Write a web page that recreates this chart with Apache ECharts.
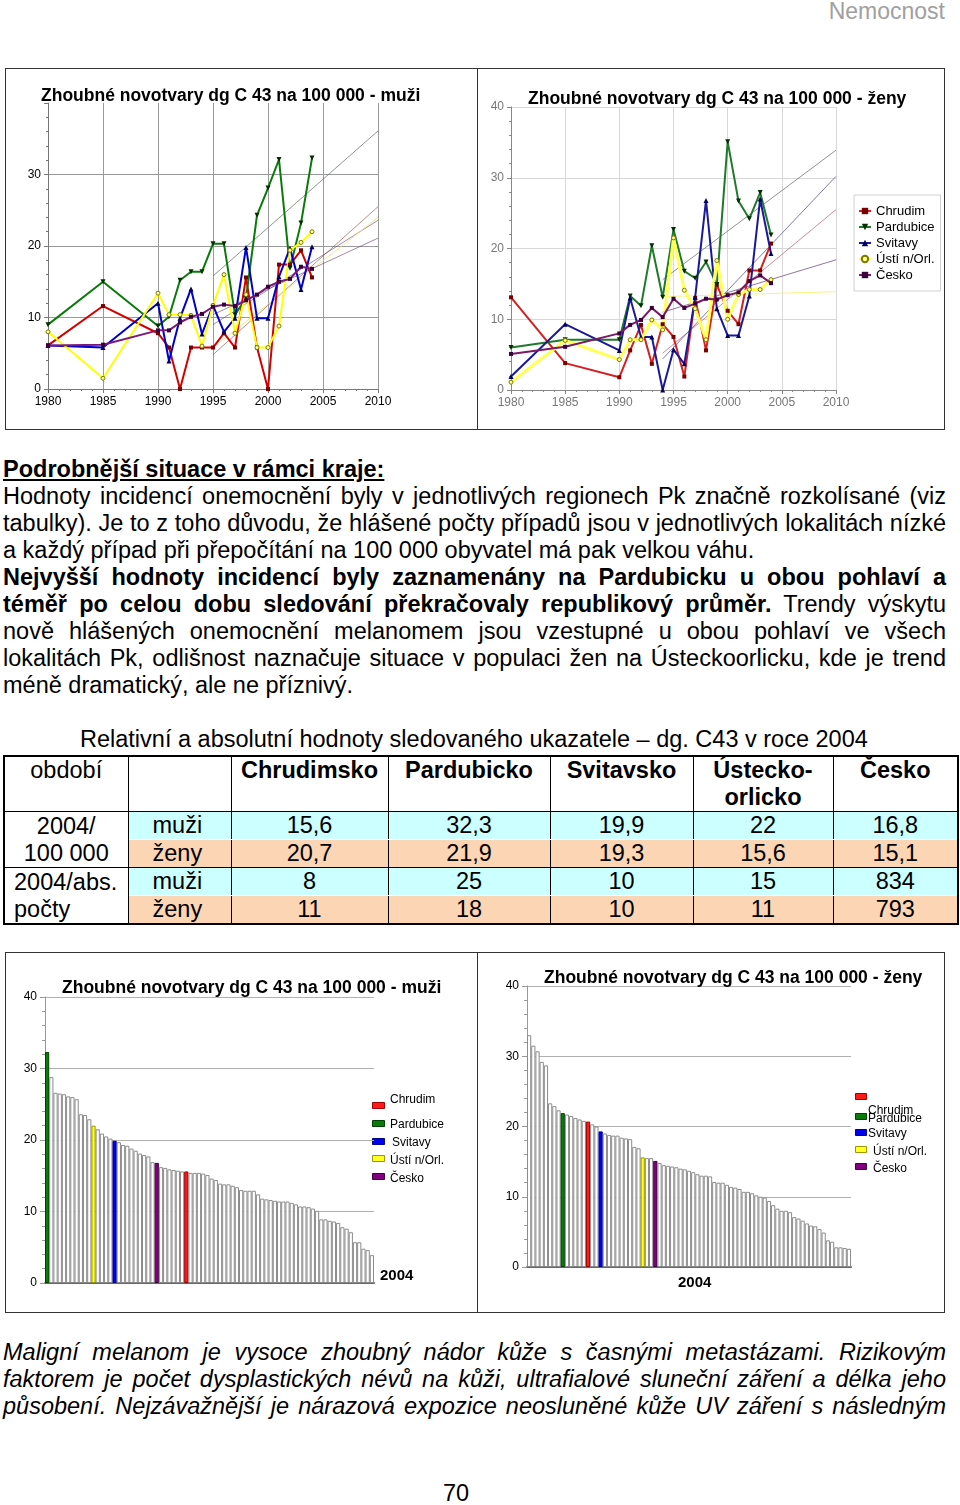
<!DOCTYPE html>
<html><head><meta charset="utf-8">
<script src="https://cdn.jsdelivr.net/npm/echarts@6.0.0/dist/echarts.min.js"></script>
<style>
html,body{margin:0;padding:0;background:#fff;}
body{width:960px;height:1505px;position:relative;overflow:hidden;font-family:Arial,"Liberation Sans",Helvetica,sans-serif;color:#000;}
#hdr{position:absolute;right:15px;top:-2px;font-size:23px;color:#a0a0a0;line-height:27px;}
.box{position:absolute;border:1px solid #333;box-sizing:border-box;}
.vdiv{position:absolute;width:1px;background:#333;}
.chart{position:absolute;}
.para{position:absolute;left:3px;width:943px;font-size:23.5px;line-height:27px;}
.ln{white-space:nowrap;width:943px;}
.b{font-weight:bold;}
#head{font-weight:bold;text-decoration:underline;}
#cap{position:absolute;left:80px;top:726px;font-size:23.5px;line-height:27px;white-space:nowrap;}
table{position:absolute;left:3px;top:755px;border-collapse:collapse;font-size:23.5px;table-layout:fixed;border:2px solid #000;}
td{border:1px solid #000;padding:0;line-height:27px;text-align:center;overflow:hidden;white-space:nowrap;}
tr.h td{vertical-align:top;height:54px;font-weight:bold;}
tr.h td.n{font-weight:normal;}
tr.m td.c{background:#ccffff;border-bottom:1px solid #fff;}
tr.z td.c{background:#fcd5b4;}
td.lab{text-align:left;padding-left:24px;}
td.grp{vertical-align:middle;background:#fff;}
td.grp2{vertical-align:middle;text-align:left;padding-left:9px;background:#fff;}
#it{font-style:italic;}
#pg{position:absolute;left:0;width:912px;text-align:center;top:1480px;font-size:23.5px;line-height:27px;}
</style>
</head>
<body>
<div id="hdr">Nemocnost</div>

<div class="box" style="left:5px;top:68px;width:940px;height:362px;"></div>
<div class="vdiv" style="left:477px;top:68px;height:362px;"></div>
<div id="c1" class="chart" style="left:6px;top:69px;width:470px;height:360px;"></div>
<div id="c2" class="chart" style="left:478px;top:69px;width:465px;height:360px;"></div>

<div id="txt" class="para" style="top:456px;">
<div class="ln" id="head">Podrobnější situace v rámci kraje:</div>
<div class="ln j">Hodnoty incidencí onemocnění byly v jednotlivých regionech Pk značně rozkolísané (viz</div>
<div class="ln j">tabulky). Je to z toho důvodu, že hlášené počty případů jsou v jednotlivých lokalitách nízké</div>
<div class="ln">a každý případ při přepočítání na 100 000 obyvatel má pak velkou váhu.</div>
<div class="ln j b">Nejvyšší hodnoty incidencí byly zaznamenány na Pardubicku u obou pohlaví a</div>
<div class="ln j"><span class="b">téměř po celou dobu sledování překračovaly republikový průměr.</span> Trendy výskytu</div>
<div class="ln j">nově hlášených onemocnění melanomem jsou vzestupné u obou pohlaví ve všech</div>
<div class="ln j">lokalitách Pk, odlišnost naznačuje situace v populaci žen na Ústeckoorlicku, kde je trend</div>
<div class="ln">méně dramatický, ale ne příznivý.</div>
</div>

<div id="cap">Relativní a absolutní hodnoty sledovaného ukazatele – dg. C43 v roce 2004</div>
<table id="tab">
<colgroup><col style="width:124px"><col style="width:103px"><col style="width:157px"><col style="width:162px"><col style="width:143px"><col style="width:140px"><col style="width:125px"></colgroup>
<tbody id="tb"></tbody>
</table>

<div class="box" style="left:5px;top:952px;width:940px;height:361px;"></div>
<div class="vdiv" style="left:477px;top:952px;height:361px;"></div>
<div id="c3" class="chart" style="left:6px;top:953px;width:470px;height:358px;"></div>
<div id="c4" class="chart" style="left:478px;top:953px;width:465px;height:358px;"></div>

<div id="it" class="para" style="top:1339px;">
<div class="ln j">Maligní melanom je vysoce zhoubný nádor kůže s časnými metastázami. Rizikovým</div>
<div class="ln j">faktorem je počet dysplastických névů na kůži, ultrafialové sluneční záření a délka jeho</div>
<div class="ln j">působení. Nejzávažnější je nárazová expozice neosluněné kůže UV záření s následným</div>
</div>
<div id="pg">70</div>

<script>
// ---------------- DATA ----------------
const years = [1980,1985,1990,1991,1992,1993,1994,1995,1996,1997,1998,1999,2000,2001,2002,2003,2004];
const regions = ['Chrudim','Pardubice','Svitavy','Ústí n/Orl.','Česko'];

// men, incidence per 100 000
const chrudimM   = [6.1,11.6,7.8,5.8,0,5.8,5.8,5.8,7.8,5.8,15.6,5.8,0,17.4,17.4,19.4,15.6];
const pardubiceM = [9.0,15.0,8.8,10.1,15.2,16.4,16.4,20.3,20.3,10.4,12.7,24.3,28.1,32.1,16.9,23.2,32.3];
const svitavyM   = [6.1,5.8,12.0,3.9,9.9,14.0,7.7,11.7,8.0,9.9,19.8,9.9,9.9,15.7,19.7,13.9,19.9];
const ustiM      = [8.0,1.5,13.4,10.4,10.4,10.3,6.0,11.7,16.0,7.8,13.2,5.8,5.8,8.8,19.4,20.5,22.0];
const ceskoM     = [6.1,6.2,8.2,8.2,9.3,10.1,10.5,11.5,11.8,11.6,12.4,13.2,14.3,15.0,15.4,17.1,16.8];

// women, incidence per 100 000
const chrudimF   = [13.1,3.8,1.8,5.6,9.2,3.7,9.3,7.5,1.9,13.0,5.6,14.9,11.2,9.3,16.9,16.9,20.7];
const pardubiceF = [6.0,7.1,7.1,13.3,11.9,20.4,13.1,22.7,16.8,15.8,18.1,14.9,35.1,26.7,24.2,27.9,21.9];
const svitavyF   = [1.9,9.3,5.6,13.0,7.5,7.5,0,5.7,3.7,13.1,26.8,11.5,7.7,7.7,13.3,27.0,19.3];
const ustiF      = [1.1,7.0,4.3,7.1,7.1,9.9,8.5,21.5,14.1,11.5,7.1,18.3,10.0,13.5,14.2,14.2,15.6];
const ceskoF     = [5.1,6.1,8.0,9.2,9.9,11.6,10.3,12.9,11.6,12.2,12.9,12.8,13.4,13.8,15.4,16.2,15.1];

// linear trend lines (start year, end year) and their values
const trendYearsM = [1995, 2010];
const trendChrudimM = [4.8, 25.5], trendPardubiceM = [15.8, 36.1], trendSvitavyM = [9.0, 23.6], trendUstiM = [5.8, 24.0], trendCeskoM = [10.4, 21.1];
const trendYearsF = [1994, 2010];
const trendChrudimF = [5.2, 25.5], trendPardubiceF = [15.6, 33.9], trendSvitavyF = [4.4, 30.2], trendUstiF = [13.2, 13.9], trendCeskoF = [11.0, 18.4];

// 2004 district ranking (sorted), men and women
const barsM = [32.3,28.8,26.6,26.5,26.4,26.1,26.0,25.7,23.6,23.5,22.9,22.0,21.5,20.9,20.5,20.2,19.9,19.7,19.3,19.2,
  18.8,18.5,18.1,17.9,17.7,16.9,16.8,16.2,16.1,15.9,15.8,15.7,15.6,15.6,15.4,15.4,15.4,15.3,15.1,14.6,
  14.4,13.9,13.8,13.8,13.6,13.4,13.0,12.9,12.9,12.9,12.4,11.8,11.7,11.6,11.5,11.4,11.4,11.4,11.2,11.0,
  10.7,10.7,10.6,10.4,10.1,8.9,8.9,8.7,8.6,8.4,7.8,7.6,7.1,5.7,5.7,4.8,4.6,3.9];
const barsF = [33.0,31.5,30.7,29.2,28.7,23.3,22.9,22.3,21.9,21.7,21.5,21.2,21.0,20.8,20.7,20.3,20.0,19.3,19.0,18.8,
  18.7,18.7,18.4,18.3,18.2,17.1,16.9,15.6,15.5,15.5,15.1,14.8,14.5,14.4,14.3,14.2,14.0,13.9,13.7,13.5,
  13.2,13.0,13.0,12.9,12.1,12.0,12.0,11.7,11.4,11.3,11.1,10.7,10.7,10.5,10.2,10.0,9.9,9.4,8.8,8.3,
  8.0,8.0,7.8,7.1,6.9,6.6,6.2,5.9,5.8,5.4,4.9,3.8,3.6,2.8,2.8,2.7,2.6];
// rank position of each region in the bar lists (order of `regions`)
const rankM = [33, 0, 16, 11, 26];
const rankF = [14, 8, 17, 27, 30];

// table
const tableCols = ['Chrudimsko','Pardubicko','Svitavsko','Ústecko-<br>orlicko','Česko'];
const relM = ['15,6','32,3','19,9','22','16,8'];
const relF = ['20,7','21,9','19,3','15,6','15,1'];
const absM = ['8','25','10','15','834'];
const absF = ['11','18','10','11','793'];

// ---------------- STYLES ----------------
const FF = 'Arial, "Liberation Sans", sans-serif';
const TF = 17.5; // chart title font size
const st = {
  'Chrudim':    {lineM:'#d40000', lineF:'#d42020', wF:2, sym:'rect', rot:0, size:4, fill:'#7a0000', bord:'#7a0000', trM:'rgba(150,60,60,0.6)', trF:'rgba(190,90,110,0.7)', bar:'#ff1a1a', barB:'#a00000'},
  'Pardubice':  {lineM:'#0a7a0a', lineF:'#1f7a2a', wF:2, sym:'triangle', rot:180, size:5, fill:'#003000', bord:'#003000', trM:'rgba(90,110,90,0.7)', trF:'rgba(90,110,90,0.7)', bar:'#0a7a0a', barB:'#004000'},
  'Svitavy':    {lineM:'#0000cc', lineF:'#1a1a99', wF:2, sym:'triangle', rot:0, size:5, fill:'#000060', bord:'#000060', trM:'rgba(90,70,110,0.6)', trF:'rgba(70,70,140,0.7)', bar:'#0000ee', barB:'#000090'},
  'Ústí n/Orl.':{lineM:'#ffff00', lineF:'#ffff55', wF:3, sym:'circle', rot:0, size:4, fill:'#ffff90', bord:'#7a7a00', trM:'rgba(235,225,120,0.8)', trF:'rgba(245,245,110,0.9)', bar:'#ffff22', barB:'#999900'},
  'Česko':      {lineM:'#7a1a7a', lineF:'#7a1a66', wF:2, sym:'rect', rot:0, size:4, fill:'#3a003a', bord:'#3a003a', trM:'rgba(100,60,110,0.6)', trF:'rgba(100,60,120,0.7)', bar:'#800080', barB:'#400040'}
};

// ---------------- LINE CHARTS ----------------
function lineSeries(values, trendYears, trends, sex) {
  const out = [];
  regions.forEach((r, k) => {
    out.push({type:'line', name:r+' trend', silent:true, symbol:'none', z:1,
      data: trendYears.map((y,i)=>[y, trends[k][i]]),
      lineStyle:{width:1, color: sex==='M'? st[r].trM : st[r].trF}});
  });
  regions.forEach((r, k) => {
    out.push({type:'line', name:r, z:3,
      data: years.map((y,i)=>[y, values[k][i]]),
      symbol: st[r].sym, symbolRotate: st[r].rot, symbolSize: st[r].size, showSymbol:true,
      lineStyle:{width: sex==='M' ? 2 : st[r].wF, color: sex==='M'? st[r].lineM : st[r].lineF},
      itemStyle:{color: st[r].fill, borderColor: st[r].bord, borderWidth: st[r].sym==='circle'?1:0}});
  });
  return out;
}

function lineOption(cfg) {
  return {
    animation:false,
    title:{text:cfg.title, left:cfg.tl, top:cfg.tt, padding:0, textStyle:{fontSize:TF, fontWeight:'bold', color:'#000', fontFamily:FF}},
    grid:cfg.grid,
    legend: cfg.legend || {show:false},
    xAxis:{type:'value', min:1980, max:2010, interval:5,
      axisLine:{show:true, lineStyle:{color:cfg.axisCol, width:1}},
      axisTick:{show:true, length:4, lineStyle:{color:cfg.axisCol}},
      minorTick:{show:true, splitNumber:5, length:2, lineStyle:{color:cfg.axisCol}},
      axisLabel:{color:cfg.labCol, fontSize:12, margin:7, fontFamily:FF, formatter: v => String(v)},
      splitLine:{show:true, lineStyle:{color:cfg.gridCol, width:1}}},
    yAxis:{type:'value', min:0, max:40, interval:10,
      axisLine:{show:true, lineStyle:{color:cfg.axisCol, width:1}},
      axisTick:{show:true, length:4, lineStyle:{color:cfg.axisCol}},
      minorTick:{show:true, splitNumber:5, length:2, lineStyle:{color:cfg.axisCol}},
      axisLabel:{color:cfg.labCol, fontSize:12, margin:7, fontFamily:FF, formatter: v => (cfg.hide40 && v===40) ? '' : String(v)},
      splitLine:{show:true, showMaxLine: !cfg.hide40, lineStyle:{color:cfg.gridCol, width:1}}},
    series: cfg.series
  };
}

const c1 = echarts.init(document.getElementById('c1'), null, {renderer:'canvas'});
c1.setOption(lineOption({
  title:'Zhoubné novotvary dg C 43 na 100 000 - muži', tl:35, tt:18,
  grid:{left:42, top:34, width:330, height:286, containLabel:false},
  axisCol:'#777', labCol:'#000', gridCol:'#9a9a9a', hide40:true,
  series: lineSeries([chrudimM,pardubiceM,svitavyM,ustiM,ceskoM], trendYearsM,
    [trendChrudimM,trendPardubiceM,trendSvitavyM,trendUstiM,trendCeskoM], 'M')
}));

const c2 = echarts.init(document.getElementById('c2'), null, {renderer:'canvas'});
c2.setOption(lineOption({
  title:'Zhoubné novotvary dg C 43 na 100 000 - ženy', tl:50, tt:21,
  grid:{left:33, top:38, width:325, height:283, containLabel:false},
  axisCol:'#888', labCol:'#777', gridCol:'#d8d8d8', hide40:false,
  legend:{show:true, orient:'vertical', left:376, top:126, padding:[9,6,9,4], itemWidth:12, itemHeight:8, itemGap:2,
    backgroundColor:'#fff', borderColor:'#d0d0d0', borderWidth:1,
    data:regions, textStyle:{fontSize:13, color:'#000', fontFamily:FF, lineHeight:14}},
  series: lineSeries([chrudimF,pardubiceF,svitavyF,ustiF,ceskoF], trendYearsF,
    [trendChrudimF,trendPardubiceF,trendSvitavyF,trendUstiF,trendCeskoF], 'F')
}));

// ---------------- BAR CHARTS ----------------
function barOption(cfg) {
  const data = cfg.values.map((v,i) => {
    const k = cfg.rank.indexOf(i);
    if (k < 0) return {value:v};
    const r = regions[k];
    return {value:v, itemStyle:{color:st[r].bar, borderColor:st[r].barB}};
  });
  const g = [];
  regions.forEach((r,k) => {
    g.push({type:'rect', left:cfg.leg.rx, top:cfg.leg.ry[k], shape:{width:cfg.leg.rw, height:6},
      style:{fill:st[r].bar, stroke:st[r].barB, lineWidth:1}});
    g.push({type:'text', left:cfg.leg.tx[k], top:cfg.leg.ty[k]-7,
      style:{text:r, font:'12px '+FF, fill:'#000'}});
  });
  g.push({type:'text', left:cfg.yl[0], top:cfg.yl[1], style:{text:'2004', font:'bold 15px '+FF, fill:'#000'}});
  return {
    animation:false,
    title:{text:cfg.title, left:cfg.tl, top:cfg.tt, padding:0, textStyle:{fontSize:TF, fontWeight:'bold', color:'#000', fontFamily:FF}},
    grid:cfg.grid,
    xAxis:{type:'category', data:cfg.values.map((_,i)=>String(i+1)),
      axisLine:{show:true, lineStyle:{color:'#666', width:2}}, axisTick:{show:false}, axisLabel:{show:false}, splitLine:{show:false}},
    yAxis:{type:'value', min:0, max:40, interval:10,
      axisLine:{show:true, lineStyle:{color:'#999', width:1}},
      axisTick:{show:true, length:5, lineStyle:{color:'#999'}},
      minorTick:{show:true, splitNumber:5, length:3, lineStyle:{color:'#999'}},
      axisLabel:{color:'#000', fontSize:12, margin:8, fontFamily:FF},
      splitLine:{show:true, lineStyle:{color:'#b0b0b0', width:1}}},
    series:[{type:'bar', data:data, barCategoryGap:'0%', barGap:'0%',
      itemStyle:{color:'#fff', borderColor:'#8c8c8c', borderWidth:1}}],
    graphic:g
  };
}

const c3 = echarts.init(document.getElementById('c3'), null, {renderer:'canvas'});
c3.setOption(barOption({
  title:'Zhoubné novotvary dg C 43 na 100 000 - muži', tl:56, tt:26,
  grid:{left:39, top:44, width:329, height:286, containLabel:false},
  values:barsM, rank:rankM,
  leg:{rx:366, rw:12, ry:[149,167,185,202,220], tx:[384,384,386,384,384], ty:[148,173,191,209,227]},
  yl:[374, 315]
}));

const c4 = echarts.init(document.getElementById('c4'), null, {renderer:'canvas'});
c4.setOption(barOption({
  title:'Zhoubné novotvary dg C 43 na 100 000 - ženy', tl:66, tt:16,
  grid:{left:49, top:33, width:324, height:281, containLabel:false},
  values:barsF, rank:rankF,
  leg:{rx:377, rw:11, ry:[140,160,176,193,210], tx:[390,390,390,395,395], ty:[159,167,182,200,217]},
  yl:[200, 322]
}));

// ---------------- TABLE ----------------
(function(){
  const tb = document.getElementById('tb');
  let h = '<tr class="h"><td class="n">období</td><td></td>' + tableCols.map(c=>'<td>'+c+'</td>').join('') + '</tr>';
  h += '<tr class="m" style="height:28px"><td class="grp" rowspan="2">2004/<br>100 000</td><td class="c lab">muži</td>' + relM.map(v=>'<td class="c">'+v+'</td>').join('') + '</tr>';
  h += '<tr class="z" style="height:28px"><td class="c lab">ženy</td>' + relF.map(v=>'<td class="c">'+v+'</td>').join('') + '</tr>';
  h += '<tr class="m" style="height:28px"><td class="grp2" rowspan="2">2004/abs.<br>počty</td><td class="c lab">muži</td>' + absM.map(v=>'<td class="c">'+v+'</td>').join('') + '</tr>';
  h += '<tr class="z" style="height:28px"><td class="c lab">ženy</td>' + absF.map(v=>'<td class="c">'+v+'</td>').join('') + '</tr>';
  tb.innerHTML = h;
})();

// ---------------- JUSTIFY LINES ----------------
document.querySelectorAll('.ln.j').forEach(el => {
  const span = document.createElement('span');
  while (el.firstChild) span.appendChild(el.firstChild);
  el.appendChild(span);
  const w = span.getBoundingClientRect().width;
  const spaces = (span.textContent.match(/ /g) || []).length;
  if (spaces > 0) el.style.wordSpacing = ((943 - w) / spaces) + 'px';
});
</script>
</body></html>
